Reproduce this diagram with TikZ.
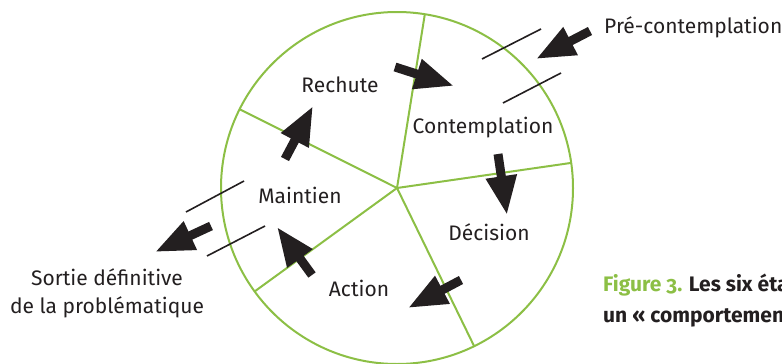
\documentclass[tikz,border=0pt]{standalone}
\usepackage{fontspec}
\setmainfont{Fira Sans}
\newfontfamily\capfont[Numbers=OldStyle]{Fira Sans}
\usetikzlibrary{arrows.meta,calc}
\definecolor{cgreen}{HTML}{8CBF45}
\definecolor{ctext}{HTML}{231F20}
\tikzset{
  spoke/.style={cgreen,line width=2pt},
  blockarrow/.style={ctext,line width=9pt,-{Triangle[length=39pt,width=29pt]}},
  tick/.style={ctext,line width=1.6pt},
  lbl/.style={inner sep=0pt,anchor=base,text=ctext,font=\fontsize{21}{29}\selectfont},
  caplbl/.style={inner sep=0pt,anchor=base west,text=ctext,font=\capfont\fontsize{21}{31}\selectfont\bfseries},
}
\begin{document}
\begin{tikzpicture}[x=1pt,y=-1pt]
\useasboundingbox (0,0) rectangle (782,364);
\clip (0,0) rectangle (782,364);
\coordinate (c) at (397,188);
\draw[spoke] (c) circle[radius=176pt];
\foreach \a/\n in {80.9/s1,8.2/s2,-64/s3,216/s4,153.4/s5}{
  \coordinate (\n) at ($(c)+(\a:176pt)$);
  \draw[spoke] (c) -- (\n);
}
% labels
\node[lbl] (rechute) at (340,92) {Rechute};
\node[lbl] (contemp) at (483,133) {Contemplation};
\node[lbl] (maintien) at (300,203) {Maintien};
\node[lbl] (decision) at (489,240) {Décision};
\node[lbl] (action) at (359,296) {Action};
\node[lbl,anchor=base west] (pre) at (604,34) {Pré-contemplation};
\node[lbl] (sortie1) at (107,285) {Sortie définitive};
\node[lbl] (sortie2) at (107,313) {de la problématique};
% caption
\node[caplbl] (cap1) at (603,291) {\textcolor{cgreen}{Figure 3.} Les six éta};
\node[caplbl] (cap2) at (603,322) {un « comportement};
% arrows
\coordinate (t1) at (395,67); \coordinate (h1) at (454,86);
\coordinate (t2) at (498,154); \coordinate (h2) at (507,215);
\coordinate (t3) at (461,280); \coordinate (h3) at (408,308);
\coordinate (t4) at (312,275); \coordinate (h4) at (277,227);
\coordinate (t5) at (285,159); \coordinate (h5) at (313,106);
\coordinate (t6) at (590,31); \coordinate (h6) at (536,59);
\coordinate (t7) at (211,226); \coordinate (h7) at (155,252);
\foreach \i in {1,...,7}{\draw[blockarrow] (t\i) -- (h\i);}
% ticks
\coordinate (a1) at (482,59); \coordinate (a2) at (541,29);
\coordinate (b1) at (503,103); \coordinate (b2) at (561,73);
\coordinate (d1) at (186,212); \coordinate (d2) at (244,181);
\coordinate (e1) at (207,256); \coordinate (e2) at (265,226);
\draw[tick] (a1) -- (a2);
\draw[tick] (b1) -- (b2);
\draw[tick] (d1) -- (d2);
\draw[tick] (e1) -- (e2);
\end{tikzpicture}
\end{document}
